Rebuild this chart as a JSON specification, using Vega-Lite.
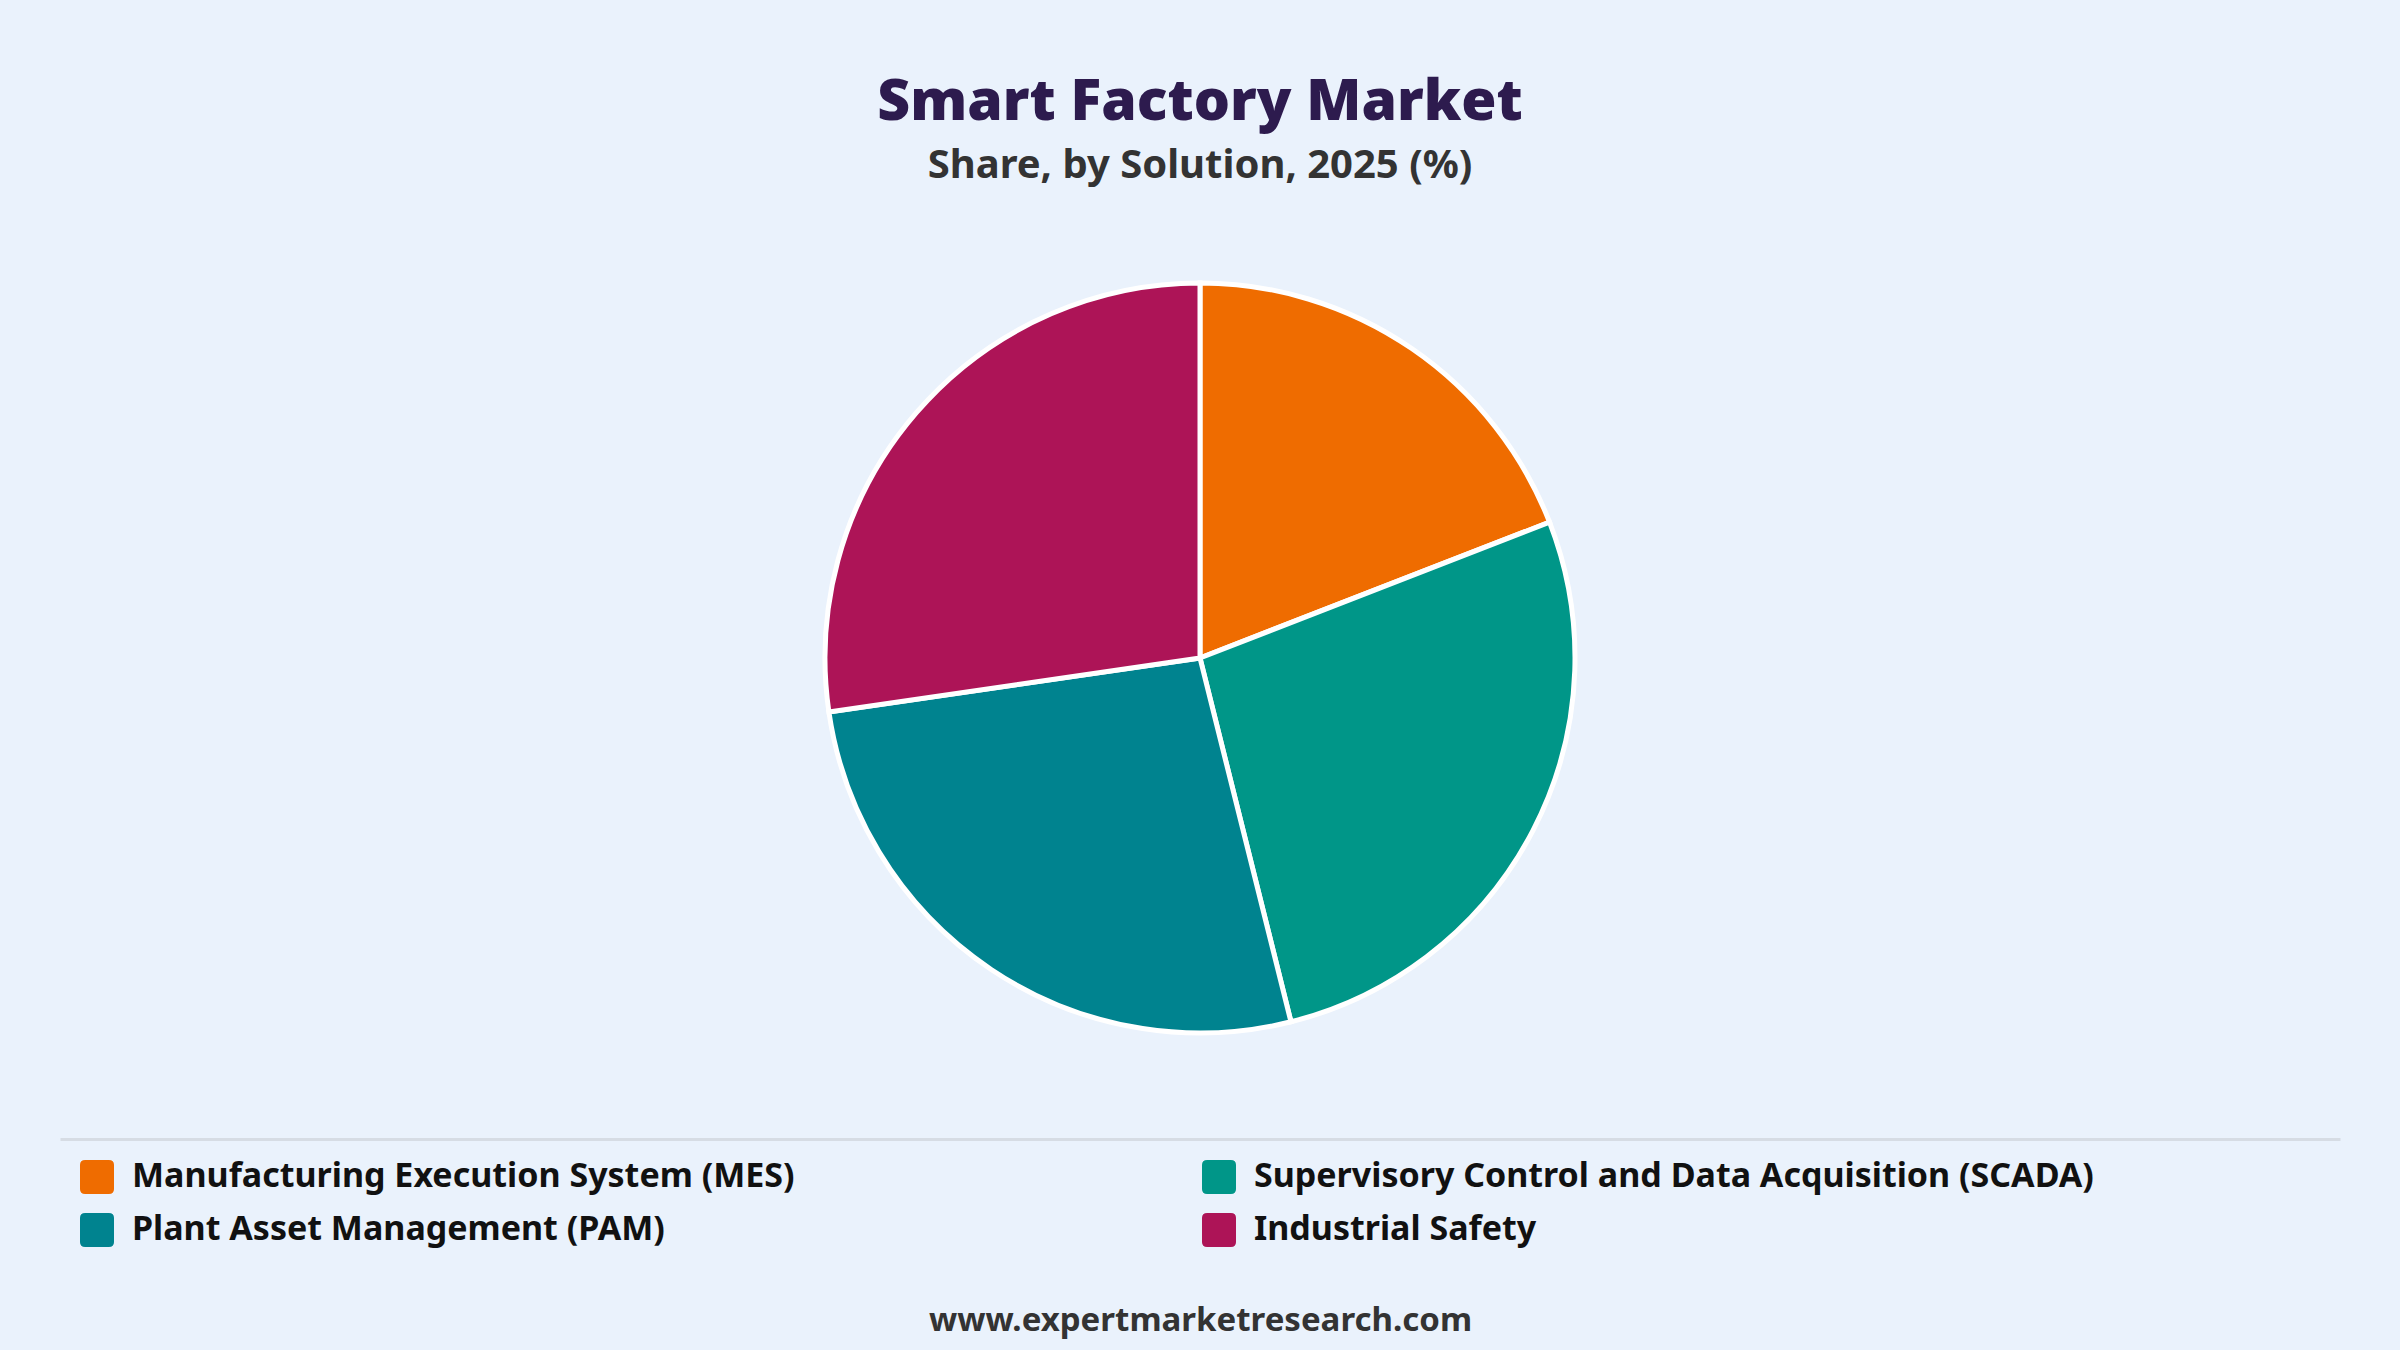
{
  "$schema": "https://vega.github.io/schema/vega-lite/v6.json",
  "width": 2280,
  "height": 962,
  "autosize": {"type": "none"},
  "padding": {"top": 177, "left": 60, "right": 60, "bottom": 211},
  "background": "#EAF2FC",
  "title": {
    "text": "Smart Factory Market",
    "subtitle": "Share, by Solution, 2025 (%)",
    "anchor": "middle",
    "font": "Noto Sans",
    "fontSize": 57,
    "fontWeight": 900,
    "color": "#2D1B4E",
    "subtitleFont": "Noto Sans",
    "subtitleFontSize": 40,
    "subtitleFontWeight": "bold",
    "subtitleColor": "#333333",
    "subtitlePadding": 14,
    "offset": -10
  },
  "data": {
    "values": [
      {"Solution": "Manufacturing Execution System (MES)", "Share": 19.1},
      {"Solution": "Supervisory Control and Data Acquisition (SCADA)", "Share": 27.0},
      {"Solution": "Plant Asset Management (PAM)", "Share": 26.6},
      {"Solution": "Industrial Safety", "Share": 27.3}
    ]
  },
  "transform": [{"window": [{"op": "row_number", "as": "rank"}]}],
  "mark": {"type": "arc", "radius": 375, "stroke": "#ffffff", "strokeWidth": 5},
  "encoding": {
    "theta": {"field": "Share", "type": "quantitative", "stack": true},
    "order": {"field": "rank", "type": "quantitative"},
    "x": {
      "datum": 0.5,
      "type": "quantitative",
      "scale": {"domain": [0, 1]},
      "axis": {
        "domain": true,
        "domainColor": "#D6DCE4",
        "domainWidth": 3,
        "ticks": false,
        "labels": false,
        "grid": false,
        "title": "www.expertmarketresearch.com",
        "titleFont": "Noto Sans",
        "titleFontSize": 33,
        "titleFontWeight": "bold",
        "titleColor": "#333333",
        "titlePadding": 165
      }
    },
    "color": {
      "field": "Solution",
      "type": "nominal",
      "sort": [
        "Manufacturing Execution System (MES)",
        "Supervisory Control and Data Acquisition (SCADA)",
        "Plant Asset Management (PAM)",
        "Industrial Safety"
      ],
      "scale": {
        "domain": [
          "Manufacturing Execution System (MES)",
          "Supervisory Control and Data Acquisition (SCADA)",
          "Plant Asset Management (PAM)",
          "Industrial Safety"
        ],
        "range": ["#EF6C00", "#009688", "#00838F", "#AD1457"]
      },
      "legend": {
        "orient": "none",
        "legendX": 20,
        "legendY": 983,
        "direction": "horizontal",
        "columns": 2,
        "columnPadding": 407,
        "rowPadding": 19,
        "padding": 0,
        "title": null,
        "symbolType": "M-1,-0.7Q-1,-1,-0.7,-1L0.7,-1Q1,-1,1,-0.7L1,0.7Q1,1,0.7,1L-0.7,1Q-1,1,-1,0.7Z",
        "symbolSize": 1156,
        "symbolStrokeWidth": 0,
        "symbolOpacity": 1,
        "labelFont": "Noto Sans",
        "labelFontSize": 34,
        "labelFontWeight": "bold",
        "labelColor": "#111111",
        "labelOffset": 18,
        "labelLimit": 1200
      }
    }
  },
  "config": {"view": {"stroke": null}}
}
